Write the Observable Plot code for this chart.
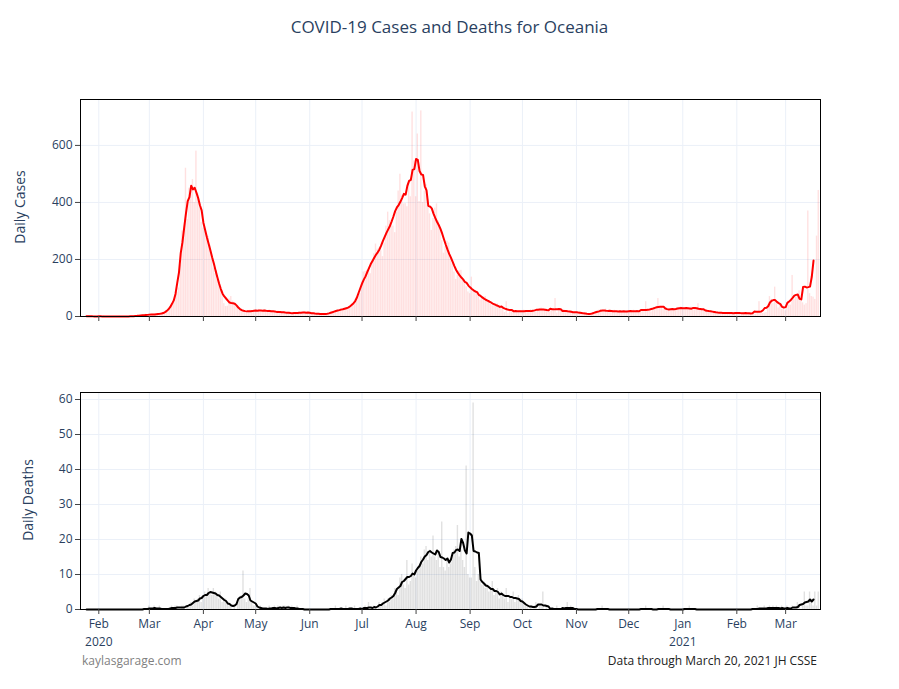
<!DOCTYPE html>
<html>
<head>
<meta charset="utf-8">
<script src="https://cdn.jsdelivr.net/npm/d3@7"></script>
<script src="https://cdn.jsdelivr.net/npm/@observablehq/plot@0.6"></script>
<style>
  html, body { margin: 0; padding: 0; background: #fff; }
  #wrap { position: relative; width: 899px; height: 689px; overflow: hidden; background: #fff; font-family: "Open Sans", verdana, arial, sans-serif; }
  .chart { position: absolute; left: 0; z-index: 1; }
  #title { position: absolute; z-index: 2; top: 15px; left: 0; width: 899px; text-align: center; font-size: 17px; color: #2a3f5f; line-height: 24px; }
  .ytitle { position: absolute; z-index: 2; font-size: 14px; color: #2a3f5f; white-space: nowrap; line-height: 18px; transform: translate(-50%, -50%) rotate(-90deg); }
  .foot { position: absolute; z-index: 2; top: 653px; font-size: 12px; line-height: 16px; white-space: nowrap; }
</style>
</head>
<body>
<div id="wrap">
  <div id="top" class="chart" style="top:0px;"></div>
  <div id="bottom" class="chart" style="top:330px;"></div>
  <div id="title">COVID-19 Cases and Deaths for Oceania</div>
  <div class="ytitle" style="left:20px; top:207px;">Daily Cases</div>
  <div class="ytitle" style="left:28px; top:500px;">Daily Deaths</div>
  <div class="foot" style="left:82px; color:#7f7f7f;">kaylasgarage.com</div>
  <div class="foot" style="right:82px; color:#222;">Data through March 20, 2021 JH CSSE</div>
</div>
<script>
// ---- data: daily values from 2020-01-22 to 2021-03-20 ----
const firstDay = "2020-01-22";

const cases2020Jan = [0,0,0,4,1,0,0,0,2,0];
const cases2020Feb = [0,1,0,2,0,0,0,0,0,0,0,0,1,0,0,0,0,0,0,1,2,3,1,2,4,3,5,8,6];
const cases2020Mar = [4,6,8,9,8,7,9,10,12,11,15,20,30,40,50,70,85,100,180,300,300,520,340,450,440,480,400,580,430,380,330];
const cases2020Apr = [310,300,274,280,250,202,170,150,130,120,104,90,45,35,36,62,70,54,40,35,30,24,20,18,16,14,18,22,18,20];
const cases2020May = [22,18,25,20,16,24,21,19,23,17,15,18,14,20,16,13,17,15,12,10,14,11,13,9,12,15,10,14,18,16,13];
const cases2020Jun = [12,9,14,10,8,11,7,9,6,8,10,12,9,14,18,20,22,25,28,20,24,30,28,35,38,42,48,60,70,80];
const cases2020Jul = [121,156,158,162,158,150,185,220,254,236,240,230,210,257,317,366,336,336,317,294,366,440,499,425,395,396,385,470,420,717,546];
const cases2020Aug = [420,640,403,721,400,440,462,411,360,302,344,380,395,334,305,266,222,247,264,258,205,185,156,130,144,160,162,134,122,104,86];
const cases2020Sep = [80,138,95,91,83,70,58,64,68,70,57,51,43,37,42,44,44,36,31,25,14,52,10,25,21,20,17,15,18,21];
const cases2020Oct = [18,22,15,20,17,24,19,21,16,25,28,30,26,24,22,18,20,19,23,63,12,20,22,18,25,21,17,14,19,16,13];
const cases2020Nov = [15,12,18,14,10,9,6,8,7,11,9,14,18,22,24,20,19,26,21,17,16,19,22,15,18,20,17,14,21,19];
const cases2020Dec = [18,16,20,22,17,19,15,21,18,17,52,20,18,16,22,28,30,63,35,32,24,26,30,27,22,20,25,28,30,26,33];
const cases2021Jan = [32,30,27,25,29,33,28,26,24,45,25,22,20,23,19,21,18,17,15,14,16,12,13,11,14,12,10,13,11,12,14];
const cases2021Feb = [12,10,13,11,14,9,12,11,13,10,12,8,14,52,10,11,12,14,40,70,60,45,103,55,30,40,25,30];
const cases2021Mar = [20,35,40,40,144,60,67,70,90,60,48,40,45,370,80,70,68,60,282,442];

const deaths2020Jan = [0,0,0,0,0,0,0,0,0,0];
const deaths2020Feb = [0,0,0,0,0,0,0,0,0,0,0,0,0,0,0,0,0,0,0,0,0,0,0,0,0,0,0,0,0];
const deaths2020Mar = [1,0,0,1,0,0,1,0,0,0,0,0,0,1,0,1,1,0,0,1,1,0,1,1,2,1,3,2,3,4,2];
const deaths2020Apr = [3,5,4,6,5,4,6,5,4,3,5,2,3,3,2,1,1,0,1,0,2,3,4,11,3,2,3,6,2,1];
const deaths2020May = [1,1,0,1,0,0,0,0,1,0,0,1,0,1,0,0,1,1,0,1,0,1,0,0,1,0,0,0,0,0,0];
const deaths2020Jun = [0,0,0,0,0,0,0,0,0,0,0,0,0,0,0,1,0,0,0,0,0,1,0,0,0,0,1,0,0,0];
const deaths2020Jul = [0,0,1,0,2,0,0,1,0,0,2,1,2,3,1,3,2,4,3,6,5,4,9,10,7,6,14,7,8,13,10];
const deaths2020Aug = [9,11,12,15,13,17,18,14,17,15,21,15,14,16,12,25,12,11,14,12,13,15,17,18,24,15,17,14,12,41,10];
const deaths2020Sep = [9,9,59,12,8,10,9,7,8,6,7,5,6,8,4,5,6,3,5,4,3,6,2,4,3,5,2,3,4,2];
const deaths2020Oct = [3,2,1,1,0,1,0,1,2,0,1,1,5,0,1,0,0,0,0,0,1,0,0,0,0,0,2,0,1,0,0];
const deaths2020Nov = [0,0,0,0,0,0,0,0,0,0,0,0,0,0,0,1,0,0,0,0,0,0,0,0,0,0,0,0,0,0];
const deaths2020Dec = [0,0,0,0,0,0,0,0,0,0,1,0,0,0,0,0,0,0,0,0,1,0,0,0,0,0,0,0,0,0,0];
const deaths2021Jan = [0,0,0,0,1,0,0,0,0,0,0,0,0,0,0,0,0,0,0,0,0,0,0,0,0,0,0,0,0,0,0];
const deaths2021Feb = [0,0,0,0,0,0,0,0,0,0,0,0,1,0,0,0,1,0,0,1,0,1,0,1,0,0,1,0];
const deaths2021Mar = [0,1,0,0,1,0,0,2,1,0,1,5,1,1,5,2,1,5,1,5];

const monthTicks = ["2020-02-01","2020-03-01","2020-04-01","2020-05-01","2020-06-01","2020-07-01","2020-08-01",
                    "2020-09-01","2020-10-01","2020-11-01","2020-12-01","2021-01-01","2021-02-01","2021-03-01"];
const monthNames = ["Feb","Mar","Apr","May","Jun","Jul","Aug","Sep","Oct","Nov","Dec","Jan","Feb","Mar"];
const yearTicks = ["2020-02-01","2021-01-01"];
const yearLabels = ["2020","2021"];
const caseTicks = [0, 200, 400, 600];
const deathTicks = [0, 10, 20, 30, 40, 50, 60];
const xRange = ["2020-01-21T12:00:00Z", "2021-03-21T00:00:00Z"];
const caseMax = 761;
const deathMax = 62;

// ---- build table ----
const DAY = 864e5;
const cases = [].concat(cases2020Jan, cases2020Feb, cases2020Mar, cases2020Apr, cases2020May, cases2020Jun,
  cases2020Jul, cases2020Aug, cases2020Sep, cases2020Oct, cases2020Nov, cases2020Dec, cases2021Jan, cases2021Feb, cases2021Mar);
const deaths = [].concat(deaths2020Jan, deaths2020Feb, deaths2020Mar, deaths2020Apr, deaths2020May, deaths2020Jun,
  deaths2020Jul, deaths2020Aug, deaths2020Sep, deaths2020Oct, deaths2020Nov, deaths2020Dec, deaths2021Jan, deaths2021Feb, deaths2021Mar);
const t0 = new Date(firstDay + "T00:00:00Z").getTime();
const rows = cases.map((c, i) => ({ date: new Date(t0 + i * DAY), cases: c, deaths: deaths[i] }));
const toDate = d => new Date(d + "T00:00:00Z");
const tickDates = monthTicks.map(toDate);
const yearDates = yearTicks.map(toDate);
const xDomain = xRange.map(d => new Date(d));
const half = 0.4 * DAY;

const font = { fontFamily: '"Open Sans", verdana, arial, sans-serif', fontSize: "12px", color: "#2a3f5f", background: "transparent", overflow: "visible" };
const grid = "#ebf0f8";

function panel({ key, yMax, yTicks, fill, fillOpacity, stroke, height, marginTop, marginBottom, labels }) {
  const marks = [
    Plot.ruleX(tickDates, { stroke: grid, strokeWidth: 1 }),
    Plot.ruleY(yTicks.slice(1), { stroke: grid, strokeWidth: 1 }),
    Plot.rectY(rows, { x1: d => new Date(+d.date - half), x2: d => new Date(+d.date + half), y: key, fill, fillOpacity }),
    Plot.lineY(rows, Plot.windowY({ k: 7, anchor: "middle", strict: true }, { x: "date", y: key, stroke, strokeWidth: 2 })),
    Plot.frame({ stroke: "#000", strokeWidth: 1 }),
    Plot.axisX(tickDates, {
      tickSize: 5, tickPadding: 5, stroke: "#444", fill: "#2a3f5f", label: null,
      tickFormat: (d, i) => labels ? monthNames[i] : ""
    }),
    Plot.axisY(yTicks, { tickSize: 5, tickPadding: 3, stroke: "#444", fill: "#2a3f5f", label: null, tickFormat: d => String(d) })
  ];
  if (labels) {
    marks.push(Plot.axisX(yearDates, {
      tickSize: 0, tickPadding: 28, fill: "#2a3f5f", label: null,
      tickFormat: (d, i) => yearLabels[i]
    }));
  }
  return Plot.plot({
    width: 899, height, marginLeft: 80, marginRight: 79, marginTop, marginBottom,
    style: font,
    x: { type: "utc", domain: xDomain },
    y: { domain: [0, yMax] },
    marks
  });
}

document.getElementById("top").append(panel({
  key: "cases", yMax: caseMax, yTicks: caseTicks, fill: "#ff0000", fillOpacity: 0.12, stroke: "#ff0000",
  height: 330, marginTop: 99, marginBottom: 14, labels: false
}));
document.getElementById("bottom").append(panel({
  key: "deaths", yMax: deathMax, yTicks: deathTicks, fill: "#000", fillOpacity: 0.12, stroke: "#000",
  height: 330, marginTop: 62, marginBottom: 51, labels: true
}));
</script>
</body>
</html>
